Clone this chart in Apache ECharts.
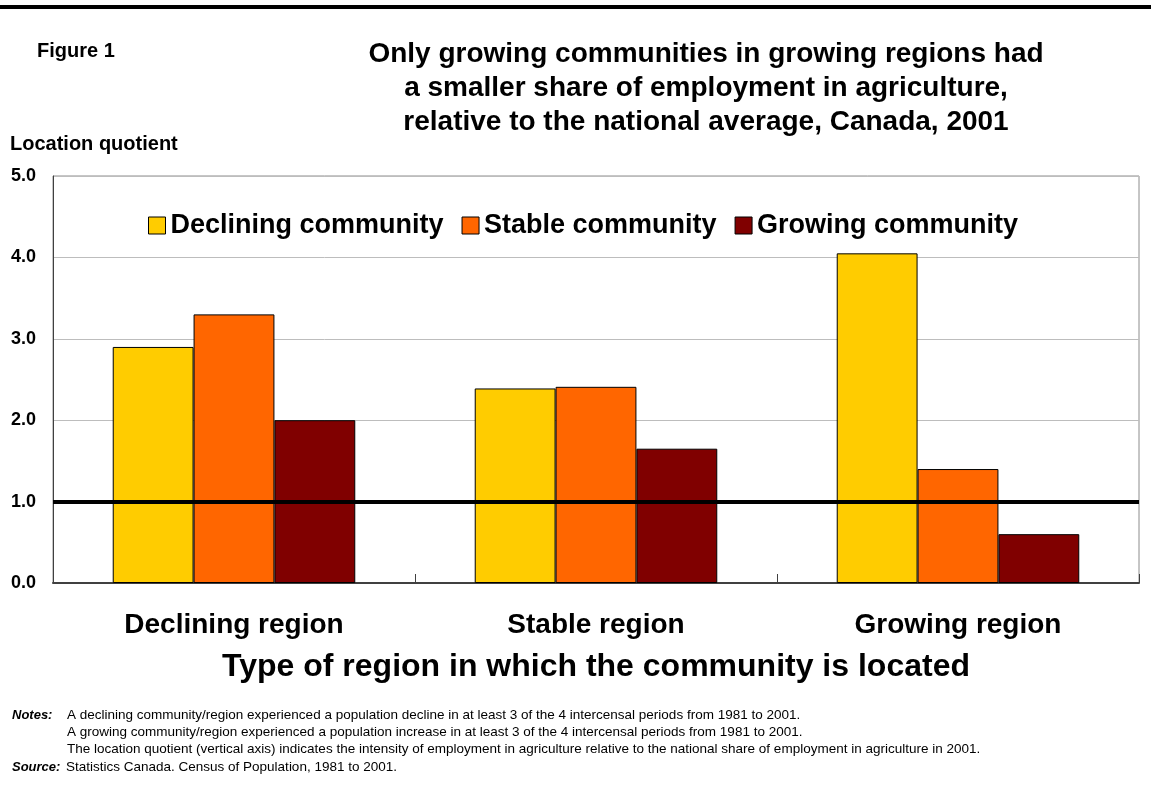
<!DOCTYPE html>
<html>
<head>
<meta charset="utf-8">
<script src="https://cdn.jsdelivr.net/npm/echarts@6/dist/echarts.min.js"></script>
<style>
  html, body { margin: 0; padding: 0; background: #fff; }
  #chart { width: 1151px; height: 794px; }
</style>
</head>
<body>
<div id="chart"></div>
<script>
// Region types (categories on the x axis)
const regions = ['Declining region', 'Stable region', 'Growing region'];
// Location quotient by community type
const decliningCommunity = [2.9, 2.39, 4.05];
const stableCommunity = [3.3, 2.41, 1.4];
const growingCommunity = [2.0, 1.65, 0.6];
const seriesNames = ['Declining community', 'Stable community', 'Growing community'];
const seriesColors = ['#FFCC00', '#FF6600', '#800000'];
// National average reference
const nationalAverage = 1.0;
const yTicks = { min: 0, max: 5, interval: 1 };

const FONT = '"Liberation Sans", Arial, sans-serif';

const chart = echarts.init(document.getElementById('chart'), null, { renderer: 'canvas' });

const values = [decliningCommunity, stableCommunity, growingCommunity];
const series = values.map((data, i) => ({
  name: seriesNames[i],
  type: 'bar',
  data: data,
  barGap: '0%',
  barCategoryGap: '33%',
  itemStyle: { color: seriesColors[i], borderColor: '#000', borderWidth: 1 },
  silent: true
}));

// Thick black line at the national average
series[2].markLine = {
  silent: true,
  symbol: ['none', 'none'],
  label: { show: false },
  lineStyle: { color: '#000', width: 4, type: 'solid' },
  data: [{ yAxis: nationalAverage }],
  z: 10
};

const noteFont = '13.5px ' + FONT;
const noteBold = 'italic bold 13px ' + FONT;

const option = {
  animation: false,
  backgroundColor: '#fff',
  textStyle: { fontFamily: FONT },
  title: {
    text: 'Only growing communities in growing regions had\na smaller share of employment in agriculture,\nrelative to the national average, Canada, 2001',
    left: 701,
    top: 32,
    textAlign: 'center',
    textStyle: { fontFamily: FONT, fontSize: 28, fontWeight: 'bold', color: '#000', lineHeight: 34 }
  },
  legend: {
    data: seriesNames,
    top: 207,
    left: 143,
    itemWidth: 17,
    itemHeight: 17,
    itemGap: 18,
    icon: 'rect',
    selectedMode: false,
    itemStyle: { borderColor: '#000', borderWidth: 1 },
    textStyle: { fontFamily: FONT, fontSize: 27, fontWeight: 'bold', color: '#000', padding: [0, 0, 0, 0] }
  },
  grid: {
    left: 53,
    right: 12,
    top: 176,
    bottom: 211,
    show: true,
    borderColor: '#8c8c8c',
    borderWidth: 1,
    containLabel: false
  },
  xAxis: {
    type: 'category',
    data: regions,
    axisLine: { show: true, lineStyle: { color: '#404040', width: 2 } },
    axisTick: { show: true, inside: true, length: 9, lineStyle: { color: '#404040', width: 1 } },
    axisLabel: { margin: 28, fontFamily: FONT, fontSize: 28, fontWeight: 'bold', color: '#000' },
    name: 'Type of region in which the community is located',
    nameLocation: 'middle',
    nameGap: 68,
    nameTextStyle: { fontFamily: FONT, fontSize: 32, fontWeight: 'bold', color: '#000', verticalAlign: 'top' }
  },
  yAxis: {
    type: 'value',
    min: yTicks.min,
    max: yTicks.max,
    interval: yTicks.interval,
    axisLine: { show: true, lineStyle: { color: '#404040', width: 1 } },
    axisTick: { show: false },
    splitLine: { show: true, lineStyle: { color: '#bdbdbd', width: 1 } },
    axisLabel: {
      margin: 17,
      fontFamily: FONT, fontSize: 18, fontWeight: 'bold', color: '#000',
      formatter: v => v.toFixed(1)
    }
  },
  series: series,
  graphic: [
    { type: 'rect', left: 0, top: 5, shape: { width: 1151, height: 4 }, style: { fill: '#000' } },
    { type: 'text', left: 37, top: 41, style: { text: 'Figure 1', font: 'bold 20px ' + FONT, fill: '#000' } },
    { type: 'text', left: 10, top: 134, style: { text: 'Location quotient', font: 'bold 20px ' + FONT, fill: '#000' } },
    { type: 'text', left: 12, top: 709, style: { text: 'Notes:', font: noteBold, fill: '#000' } },
    { type: 'text', left: 67, top: 708, style: { text: 'A declining community/region experienced a population decline in at least 3 of the 4 intercensal periods from 1981 to 2001.', font: noteFont, fill: '#000' } },
    { type: 'text', left: 67, top: 725, style: { text: 'A growing community/region experienced a population increase in at least 3 of the 4 intercensal periods from 1981 to 2001.', font: noteFont, fill: '#000' } },
    { type: 'text', left: 67, top: 742, style: { text: 'The location quotient (vertical axis) indicates the intensity of employment in agriculture relative to the national share of employment in agriculture in 2001.', font: noteFont, fill: '#000' } },
    { type: 'text', left: 12, top: 761, style: { text: 'Source:', font: noteBold, fill: '#000' } },
    { type: 'text', left: 66, top: 760, style: { text: 'Statistics Canada. Census of Population, 1981 to 2001.', font: noteFont, fill: '#000' } }
  ]
};

chart.setOption(option);
</script>
</body>
</html>
